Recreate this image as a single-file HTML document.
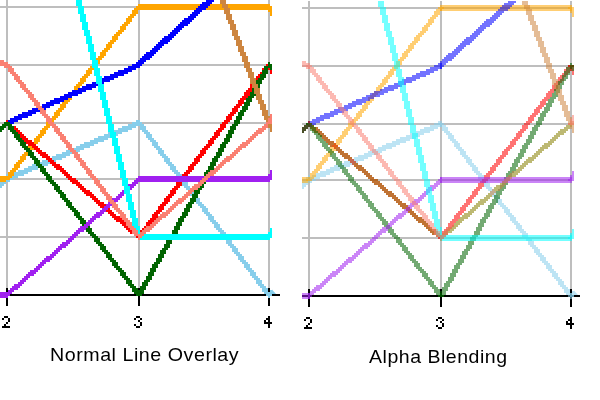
<!DOCTYPE html>
<html lang="en">
<head>
<meta charset="utf-8">
<title>Normal Line Overlay vs Alpha Blending</title>
<style>
  html, body { margin: 0; padding: 0; background: #ffffff; }
  body { width: 600px; height: 400px; overflow: hidden; position: relative;
         font-family: "Liberation Sans", sans-serif; }
  svg { position: absolute; left: 0; top: 0; display: block; }
  .lines path, .lines polygon { stroke: none; }
  .grid rect { fill: #bebebe; }
  .axis rect { fill: #000000; }
  .caption { position: absolute; margin: 0; white-space: nowrap; color: #000;
             font-family: "Liberation Sans", sans-serif; font-size: 18.5px; line-height: 20px; letter-spacing: 0.5px;
             transform-origin: 0 0; will-change: transform; }
</style>
</head>
<body>
<svg width="600" height="400" viewBox="0 0 600 400" shape-rendering="crispEdges">
  <defs>
    <!-- grey grid -->
    <g id="grid" class="grid">
      <rect x="0" y="6"   width="270" height="2"/>
      <rect x="0" y="64"  width="270" height="2"/>
      <rect x="0" y="122" width="270" height="2"/>
      <rect x="0" y="178" width="270" height="2"/>
      <rect x="0" y="236" width="270" height="2"/>
      <rect x="6"   y="0" width="2" height="288"/>
      <rect x="138" y="0" width="2" height="288"/>
      <rect x="268" y="0" width="2" height="288"/>
    </g>

    <!-- x axis ticks -->
    <g id="ticks" class="axis">
      <rect x="6"   y="288" width="2" height="18"/>
      <rect x="138" y="288" width="2" height="18"/>
      <rect x="268" y="288" width="2" height="18"/>
    </g>

    <!-- 4x6 bitmap digits, drawn at 2x -->
    <g id="d2" class="axis">
      <rect x="2" y="0" width="4" height="2"/>
      <rect x="0" y="2" width="2" height="2"/><rect x="6" y="2" width="2" height="2"/>
      <rect x="6" y="4" width="2" height="2"/>
      <rect x="4" y="6" width="2" height="2"/>
      <rect x="2" y="8" width="2" height="2"/>
      <rect x="0" y="10" width="8" height="2"/>
    </g>
    <g id="d3" class="axis">
      <rect x="2" y="0" width="4" height="2"/>
      <rect x="0" y="2" width="2" height="2"/><rect x="6" y="2" width="2" height="2"/>
      <rect x="4" y="4" width="2" height="2"/>
      <rect x="6" y="6" width="2" height="2"/>
      <rect x="0" y="8" width="2" height="2"/><rect x="6" y="8" width="2" height="2"/>
      <rect x="2" y="10" width="4" height="2"/>
    </g>
    <g id="d4" class="axis">
      <rect x="4" y="0" width="2" height="2"/>
      <rect x="2" y="2" width="4" height="2"/>
      <rect x="0" y="4" width="2" height="2"/><rect x="4" y="4" width="2" height="2"/>
      <rect x="0" y="6" width="8" height="2"/>
      <rect x="4" y="8" width="2" height="4"/>
    </g>

    <!-- data series: thick, un-antialiased lines rasterised on a 2px grid,
         drawn axis-pair by axis-pair (1-2 is off-panel to the left) -->
    <g id="series" class="lines">
      <g><!-- axis 1 to 2 -->
        <path fill="#00ff00" d="M0 126h2v6h-2zM2 124h2v6h-2zM4 122h2v6h-2zM6 120h2v6h-2z"/>
        <path fill="#87ceeb" d="M0 180h2v8h-2zM2 178h2v8h-2zM4 176h2v8h-2zM6 174h2v8h-2z"/>
        <path fill="#ffa500" d="M0 176h8v6h-8z"/>
        <path fill="#0000ff" d="M0 126h2v6h-2zM2 124h2v6h-2zM4 122h2v6h-2zM6 120h2v6h-2z"/>
        <path fill="#ff0000" d="M0 126h2v6h-2zM2 124h2v6h-2zM4 122h2v6h-2zM6 120h2v6h-2z"/>
        <path fill="#006400" d="M0 126h2v6h-2zM2 124h2v6h-2zM4 122h2v6h-2zM6 120h2v6h-2z"/>
        <path fill="#a020f0" d="M0 292h8v6h-8z"/>
        <path fill="#fa8072" d="M0 60h4v6h-4zM4 62h4v6h-4z"/>
      </g>
      <g><!-- axis 2 to 3 -->
        <path fill="#00ff00" d="M6 120h2v6h-2zM8 122h2v6h-2zM10 124h2v6h-2zM12 126h4v6h-4zM16 128h2v6h-2zM18 130h2v6h-2zM20 132h2v6h-2zM22 134h2v6h-2zM24 136h2v6h-2zM26 138h2v6h-2zM28 140h4v6h-4zM32 142h2v6h-2zM34 144h2v6h-2zM36 146h2v6h-2zM38 148h2v6h-2zM40 150h2v6h-2zM42 152h4v6h-4zM46 154h2v6h-2zM48 156h2v6h-2zM50 158h2v6h-2zM52 160h2v6h-2zM54 162h2v6h-2zM56 164h4v6h-4zM60 166h2v6h-2zM62 168h2v6h-2zM64 170h2v6h-2zM66 172h2v6h-2zM68 174h2v6h-2zM70 176h2v6h-2zM72 178h4v6h-4zM76 180h2v6h-2zM78 182h2v6h-2zM80 184h2v6h-2zM82 186h2v6h-2zM84 188h2v6h-2zM86 190h4v6h-4zM90 192h2v6h-2zM92 194h2v6h-2zM94 196h2v6h-2zM96 198h2v6h-2zM98 200h2v6h-2zM100 202h4v6h-4zM104 204h2v6h-2zM106 206h2v6h-2zM108 208h2v6h-2zM110 210h2v6h-2zM112 212h2v6h-2zM114 214h2v6h-2zM116 216h4v6h-4zM120 218h2v6h-2zM122 220h2v6h-2zM124 222h2v6h-2zM126 224h2v6h-2zM128 226h2v6h-2zM130 228h4v6h-4zM134 230h2v6h-2zM136 232h2v6h-2zM138 234h2v6h-2z"/>
        <path fill="#87ceeb" d="M6 176h4v6h-4zM10 174h4v6h-4zM14 172h4v6h-4zM18 170h6v6h-6zM24 168h4v6h-4zM28 166h4v6h-4zM32 164h6v6h-6zM38 162h4v6h-4zM42 160h6v6h-6zM48 158h4v6h-4zM52 156h4v6h-4zM56 154h6v6h-6zM62 152h4v6h-4zM66 150h4v6h-4zM70 148h6v6h-6zM76 146h4v6h-4zM80 144h4v6h-4zM84 142h6v6h-6zM90 140h4v6h-4zM94 138h4v6h-4zM98 136h6v6h-6zM104 134h4v6h-4zM108 132h6v6h-6zM114 130h4v6h-4zM118 128h4v6h-4zM122 126h6v6h-6zM128 124h4v6h-4zM132 122h4v6h-4zM136 120h4v6h-4z"/>
        <path fill="#ffa500" d="M136 6h6v2h-6zM134 8h6v2h-6zM132 10h6v4h-6zM130 14h6v2h-6zM128 16h6v2h-6zM126 18h6v4h-6zM124 22h6v2h-6zM122 24h6v2h-6zM120 26h6v4h-6zM118 30h6v2h-6zM116 32h6v2h-6zM114 34h6v2h-6zM112 36h6v4h-6zM110 40h6v2h-6zM108 42h6v2h-6zM106 44h6v4h-6zM104 48h6v2h-6zM102 50h6v2h-6zM100 52h6v4h-6zM98 56h6v2h-6zM96 58h6v2h-6zM94 60h6v4h-6zM92 64h6v2h-6zM90 66h6v2h-6zM88 68h6v2h-6zM86 70h6v4h-6zM84 74h6v2h-6zM82 76h6v2h-6zM80 78h6v4h-6zM78 82h6v2h-6zM76 84h6v2h-6zM74 86h6v4h-6zM72 90h6v2h-6zM70 92h6v2h-6zM68 94h6v2h-6zM66 96h6v4h-6zM64 100h6v2h-6zM62 102h6v2h-6zM60 104h6v4h-6zM58 108h6v2h-6zM56 110h6v2h-6zM54 112h6v4h-6zM52 116h6v2h-6zM50 118h6v2h-6zM48 120h6v2h-6zM46 122h6v4h-6zM44 126h6v2h-6zM42 128h6v2h-6zM40 130h6v4h-6zM38 134h6v2h-6zM36 136h6v2h-6zM34 138h6v4h-6zM32 142h6v2h-6zM30 144h6v2h-6zM28 146h6v4h-6zM26 150h6v2h-6zM24 152h6v2h-6zM22 154h6v2h-6zM20 156h6v4h-6zM18 160h6v2h-6zM16 162h6v2h-6zM14 164h6v4h-6zM12 168h6v2h-6zM10 170h6v2h-6zM8 172h6v4h-6zM6 176h6v2h-6zM4 178h6v2h-6z"/>
        <path fill="#0000ff" d="M6 120h4v6h-4zM10 118h4v6h-4zM14 116h4v6h-4zM18 114h4v6h-4zM22 112h6v6h-6zM28 110h4v6h-4zM32 108h4v6h-4zM36 106h6v6h-6zM42 104h4v6h-4zM46 102h4v6h-4zM50 100h4v6h-4zM54 98h6v6h-6zM60 96h4v6h-4zM64 94h4v6h-4zM68 92h4v6h-4zM72 90h6v6h-6zM78 88h4v6h-4zM82 86h4v6h-4zM86 84h6v6h-6zM92 82h4v6h-4zM96 80h4v6h-4zM100 78h4v6h-4zM104 76h6v6h-6zM110 74h4v6h-4zM114 72h4v6h-4zM118 70h6v6h-6zM124 68h4v6h-4zM128 66h4v6h-4zM132 64h4v6h-4zM136 62h4v6h-4z"/>
        <path fill="#ff0000" d="M6 120h2v6h-2zM8 122h2v6h-2zM10 124h2v6h-2zM12 126h4v6h-4zM16 128h2v6h-2zM18 130h2v6h-2zM20 132h2v6h-2zM22 134h2v6h-2zM24 136h2v6h-2zM26 138h2v6h-2zM28 140h4v6h-4zM32 142h2v6h-2zM34 144h2v6h-2zM36 146h2v6h-2zM38 148h2v6h-2zM40 150h2v6h-2zM42 152h4v6h-4zM46 154h2v6h-2zM48 156h2v6h-2zM50 158h2v6h-2zM52 160h2v6h-2zM54 162h2v6h-2zM56 164h4v6h-4zM60 166h2v6h-2zM62 168h2v6h-2zM64 170h2v6h-2zM66 172h2v6h-2zM68 174h2v6h-2zM70 176h2v6h-2zM72 178h4v6h-4zM76 180h2v6h-2zM78 182h2v6h-2zM80 184h2v6h-2zM82 186h2v6h-2zM84 188h2v6h-2zM86 190h4v6h-4zM90 192h2v6h-2zM92 194h2v6h-2zM94 196h2v6h-2zM96 198h2v6h-2zM98 200h2v6h-2zM100 202h4v6h-4zM104 204h2v6h-2zM106 206h2v6h-2zM108 208h2v6h-2zM110 210h2v6h-2zM112 212h2v6h-2zM114 214h2v6h-2zM116 216h4v6h-4zM120 218h2v6h-2zM122 220h2v6h-2zM124 222h2v6h-2zM126 224h2v6h-2zM128 226h2v6h-2zM130 228h4v6h-4zM134 230h2v6h-2zM136 232h2v6h-2zM138 234h2v6h-2z"/>
        <path fill="#006400" d="M4 122h6v2h-6zM6 124h6v2h-6zM8 126h6v4h-6zM10 130h6v2h-6zM12 132h6v2h-6zM14 134h6v4h-6zM16 138h6v2h-6zM18 140h6v2h-6zM20 142h6v4h-6zM22 146h6v2h-6zM24 148h6v2h-6zM26 150h6v2h-6zM28 152h6v4h-6zM30 156h6v2h-6zM32 158h6v2h-6zM34 160h6v4h-6zM36 164h6v2h-6zM38 166h6v2h-6zM40 168h6v4h-6zM42 172h6v2h-6zM44 174h6v2h-6zM46 176h6v4h-6zM48 180h6v2h-6zM50 182h6v2h-6zM52 184h6v2h-6zM54 186h6v4h-6zM56 190h6v2h-6zM58 192h6v2h-6zM60 194h6v4h-6zM62 198h6v2h-6zM64 200h6v2h-6zM66 202h6v4h-6zM68 206h6v2h-6zM70 208h6v2h-6zM72 210h6v2h-6zM74 212h6v4h-6zM76 216h6v2h-6zM78 218h6v2h-6zM80 220h6v4h-6zM82 224h6v2h-6zM84 226h6v2h-6zM86 228h6v4h-6zM88 232h6v2h-6zM90 234h6v2h-6zM92 236h6v2h-6zM94 238h6v4h-6zM96 242h6v2h-6zM98 244h6v2h-6zM100 246h6v4h-6zM102 250h6v2h-6zM104 252h6v2h-6zM106 254h6v4h-6zM108 258h6v2h-6zM110 260h6v2h-6zM112 262h6v4h-6zM114 266h6v2h-6zM116 268h6v2h-6zM118 270h6v2h-6zM120 272h6v4h-6zM122 276h6v2h-6zM124 278h6v2h-6zM126 280h6v4h-6zM128 284h6v2h-6zM130 286h6v2h-6zM132 288h6v4h-6zM134 292h6v2h-6zM136 294h6v2h-6z"/>
        <path fill="#a020f0" d="M6 292h2v6h-2zM8 290h2v6h-2zM10 288h2v6h-2zM12 286h2v6h-2zM14 284h4v6h-4zM18 282h2v6h-2zM20 280h2v6h-2zM22 278h2v6h-2zM24 276h2v6h-2zM26 274h2v6h-2zM28 272h2v6h-2zM30 270h4v6h-4zM34 268h2v6h-2zM36 266h2v6h-2zM38 264h2v6h-2zM40 262h2v6h-2zM42 260h2v6h-2zM44 258h2v6h-2zM46 256h4v6h-4zM50 254h2v6h-2zM52 252h2v6h-2zM54 250h2v6h-2zM56 248h2v6h-2zM58 246h2v6h-2zM60 244h2v6h-2zM62 242h4v6h-4zM66 240h2v6h-2zM68 238h2v6h-2zM70 236h2v6h-2zM72 234h2v6h-2zM74 232h2v6h-2zM76 230h2v6h-2zM78 228h2v6h-2zM80 226h4v6h-4zM84 224h2v6h-2zM86 222h2v6h-2zM88 220h2v6h-2zM90 218h2v6h-2zM92 216h2v6h-2zM94 214h2v6h-2zM96 212h4v6h-4zM100 210h2v6h-2zM102 208h2v6h-2zM104 206h2v6h-2zM106 204h2v6h-2zM108 202h2v6h-2zM110 200h2v6h-2zM112 198h4v6h-4zM116 196h2v6h-2zM118 194h2v6h-2zM120 192h2v6h-2zM122 190h2v6h-2zM124 188h2v6h-2zM126 186h2v6h-2zM128 184h4v6h-4zM132 182h2v6h-2zM134 180h2v6h-2zM136 178h2v6h-2zM138 176h2v6h-2z"/>
        <path fill="#00ffff" d="M76 0h6v6h-6zM78 6h6v8h-6zM80 14h6v8h-6zM82 22h6v8h-6zM84 30h6v6h-6zM86 36h6v8h-6zM88 44h6v8h-6zM90 52h6v8h-6zM92 60h6v8h-6zM94 68h6v8h-6zM96 76h6v8h-6zM98 84h6v8h-6zM100 92h6v8h-6zM102 100h6v8h-6zM104 108h6v8h-6zM106 116h6v8h-6zM108 124h6v8h-6zM110 132h6v6h-6zM112 138h6v8h-6zM114 146h6v8h-6zM116 154h6v8h-6zM118 162h6v8h-6zM120 170h6v8h-6zM122 178h6v8h-6zM124 186h6v8h-6zM126 194h6v8h-6zM128 202h6v8h-6zM130 210h6v8h-6zM132 218h6v8h-6zM134 226h6v8h-6zM136 234h6v4h-6z"/>
        <path fill="#fa8072" d="M4 64h6v2h-6zM6 66h6v2h-6zM8 68h6v4h-6zM10 72h6v2h-6zM12 74h6v2h-6zM14 76h6v4h-6zM16 80h6v2h-6zM18 82h6v2h-6zM20 84h6v4h-6zM22 88h6v2h-6zM24 90h6v2h-6zM26 92h6v2h-6zM28 94h6v4h-6zM30 98h6v2h-6zM32 100h6v2h-6zM34 102h6v4h-6zM36 106h6v2h-6zM38 108h6v2h-6zM40 110h6v4h-6zM42 114h6v2h-6zM44 116h6v2h-6zM46 118h6v4h-6zM48 122h6v2h-6zM50 124h6v2h-6zM52 126h6v2h-6zM54 128h6v4h-6zM56 132h6v2h-6zM58 134h6v2h-6zM60 136h6v4h-6zM62 140h6v2h-6zM64 142h6v2h-6zM66 144h6v4h-6zM68 148h6v2h-6zM70 150h6v2h-6zM72 152h6v2h-6zM74 154h6v4h-6zM76 158h6v2h-6zM78 160h6v2h-6zM80 162h6v4h-6zM82 166h6v2h-6zM84 168h6v2h-6zM86 170h6v4h-6zM88 174h6v2h-6zM90 176h6v2h-6zM92 178h6v2h-6zM94 180h6v4h-6zM96 184h6v2h-6zM98 186h6v2h-6zM100 188h6v4h-6zM102 192h6v2h-6zM104 194h6v2h-6zM106 196h6v4h-6zM108 200h6v2h-6zM110 202h6v2h-6zM112 204h6v4h-6zM114 208h6v2h-6zM116 210h6v2h-6zM118 212h6v2h-6zM120 214h6v4h-6zM122 218h6v2h-6zM124 220h6v2h-6zM126 222h6v4h-6zM128 226h6v2h-6zM130 228h6v2h-6zM132 230h6v4h-6zM134 234h6v2h-6zM136 236h6v2h-6z"/>
      </g>
      <g><!-- axis 3 to 4 -->
        <path fill="#00ff00" d="M138 234h2v6h-2zM140 232h2v6h-2zM142 230h2v6h-2zM144 228h2v6h-2zM146 226h4v6h-4zM150 224h2v6h-2zM152 222h2v6h-2zM154 220h2v6h-2zM156 218h2v6h-2zM158 216h2v6h-2zM160 214h2v6h-2zM162 212h4v6h-4zM166 210h2v6h-2zM168 208h2v6h-2zM170 206h2v6h-2zM172 204h2v6h-2zM174 202h2v6h-2zM176 200h2v6h-2zM178 198h4v6h-4zM182 196h2v6h-2zM184 194h2v6h-2zM186 192h2v6h-2zM188 190h2v6h-2zM190 188h2v6h-2zM192 186h2v6h-2zM194 184h4v6h-4zM198 182h2v6h-2zM200 180h2v6h-2zM202 178h2v6h-2zM204 176h2v6h-2zM206 174h2v6h-2zM208 172h2v6h-2zM210 170h4v6h-4zM214 168h2v6h-2zM216 166h2v6h-2zM218 164h2v6h-2zM220 162h2v6h-2zM222 160h2v6h-2zM224 158h2v6h-2zM226 156h4v6h-4zM230 154h2v6h-2zM232 152h2v6h-2zM234 150h2v6h-2zM236 148h2v6h-2zM238 146h2v6h-2zM240 144h2v6h-2zM242 142h4v6h-4zM246 140h2v6h-2zM248 138h2v6h-2zM250 136h2v6h-2zM252 134h2v6h-2zM254 132h2v6h-2zM256 130h2v6h-2zM258 128h4v6h-4zM262 126h2v6h-2zM264 124h2v6h-2zM266 122h2v6h-2zM268 120h2v6h-2z"/>
        <path fill="#87ceeb" d="M136 122h6v2h-6zM138 124h6v2h-6zM140 126h6v4h-6zM142 130h6v2h-6zM144 132h6v2h-6zM146 134h6v4h-6zM148 138h6v2h-6zM150 140h6v2h-6zM152 142h6v4h-6zM154 146h6v2h-6zM156 148h6v2h-6zM158 150h6v4h-6zM160 154h6v2h-6zM162 156h6v2h-6zM164 158h6v4h-6zM166 162h6v2h-6zM168 164h6v2h-6zM170 166h6v4h-6zM172 170h6v2h-6zM174 172h6v2h-6zM176 174h6v4h-6zM178 178h6v2h-6zM180 180h6v2h-6zM182 182h6v4h-6zM184 186h6v2h-6zM186 188h6v2h-6zM188 190h6v4h-6zM190 194h6v2h-6zM192 196h6v2h-6zM194 198h6v4h-6zM196 202h6v2h-6zM198 204h6v2h-6zM200 206h6v2h-6zM202 208h6v4h-6zM204 212h6v2h-6zM206 214h6v2h-6zM208 216h6v4h-6zM210 220h6v2h-6zM212 222h6v2h-6zM214 224h6v4h-6zM216 228h6v2h-6zM218 230h6v2h-6zM220 232h6v4h-6zM222 236h6v2h-6zM224 238h6v2h-6zM226 240h6v4h-6zM228 244h6v2h-6zM230 246h6v2h-6zM232 248h6v4h-6zM234 252h6v2h-6zM236 254h6v2h-6zM238 256h6v4h-6zM240 260h6v2h-6zM242 262h6v2h-6zM244 264h6v4h-6zM246 268h6v2h-6zM248 270h6v2h-6zM250 272h6v4h-6zM252 276h6v2h-6zM254 278h6v2h-6zM256 280h6v4h-6zM258 284h6v2h-6zM260 286h6v2h-6zM262 288h6v4h-6zM264 292h6v2h-6zM266 294h6v2h-6z"/>
        <path fill="#ffa500" d="M138 4h132v6h-132z"/>
        <path fill="#0000ff" d="M138 60h2v8h-2zM140 58h2v8h-2zM142 56h2v8h-2zM144 54h2v8h-2zM146 52h4v8h-4zM150 50h2v8h-2zM152 48h2v8h-2zM154 46h2v8h-2zM156 44h2v8h-2zM158 42h2v8h-2zM160 40h2v8h-2zM162 38h2v8h-2zM164 36h4v8h-4zM168 34h2v8h-2zM170 32h2v8h-2zM172 30h2v8h-2zM174 28h2v8h-2zM176 26h2v8h-2zM178 24h2v8h-2zM180 22h2v8h-2zM182 20h2v8h-2zM184 18h4v8h-4zM188 16h2v8h-2zM190 14h2v8h-2zM192 12h2v8h-2zM194 10h2v8h-2zM196 8h2v8h-2zM198 6h2v8h-2zM200 4h2v8h-2zM202 2h4v8h-4zM206 0h2v8h-2zM208 0h2v6h-2zM210 0h2v4h-2zM212 0h2v2h-2z"/>
        <path fill="#ff0000" d="M266 64h6v2h-6zM264 66h6v2h-6zM262 68h6v4h-6zM260 72h6v2h-6zM258 74h6v2h-6zM256 76h6v4h-6zM254 80h6v2h-6zM252 82h6v2h-6zM250 84h6v4h-6zM248 88h6v2h-6zM246 90h6v2h-6zM244 92h6v4h-6zM242 96h6v2h-6zM240 98h6v2h-6zM238 100h6v4h-6zM236 104h6v2h-6zM234 106h6v2h-6zM232 108h6v4h-6zM230 112h6v2h-6zM228 114h6v2h-6zM226 116h6v4h-6zM224 120h6v2h-6zM222 122h6v2h-6zM220 124h6v4h-6zM218 128h6v2h-6zM216 130h6v2h-6zM214 132h6v4h-6zM212 136h6v2h-6zM210 138h6v2h-6zM208 140h6v4h-6zM206 144h6v2h-6zM204 146h6v2h-6zM202 148h6v2h-6zM200 150h6v4h-6zM198 154h6v2h-6zM196 156h6v2h-6zM194 158h6v4h-6zM192 162h6v2h-6zM190 164h6v2h-6zM188 166h6v4h-6zM186 170h6v2h-6zM184 172h6v2h-6zM182 174h6v4h-6zM180 178h6v2h-6zM178 180h6v2h-6zM176 182h6v4h-6zM174 186h6v2h-6zM172 188h6v2h-6zM170 190h6v4h-6zM168 194h6v2h-6zM166 196h6v2h-6zM164 198h6v4h-6zM162 202h6v2h-6zM160 204h6v2h-6zM158 206h6v4h-6zM156 210h6v2h-6zM154 212h6v2h-6zM152 214h6v4h-6zM150 218h6v2h-6zM148 220h6v2h-6zM146 222h6v4h-6zM144 226h6v2h-6zM142 228h6v2h-6zM140 230h6v4h-6zM138 234h6v2h-6zM136 236h6v2h-6z"/>
        <path fill="#006400" d="M266 64h6v2h-6zM264 66h6v4h-6zM262 70h6v4h-6zM260 74h6v4h-6zM258 78h6v2h-6zM256 80h6v4h-6zM254 84h6v4h-6zM252 88h6v4h-6zM250 92h6v4h-6zM248 96h6v2h-6zM246 98h6v4h-6zM244 102h6v4h-6zM242 106h6v4h-6zM240 110h6v2h-6zM238 112h6v4h-6zM236 116h6v4h-6zM234 120h6v4h-6zM232 124h6v2h-6zM230 126h6v4h-6zM228 130h6v4h-6zM226 134h6v4h-6zM224 138h6v4h-6zM222 142h6v2h-6zM220 144h6v4h-6zM218 148h6v4h-6zM216 152h6v4h-6zM214 156h6v2h-6zM212 158h6v4h-6zM210 162h6v4h-6zM208 166h6v4h-6zM206 170h6v2h-6zM204 172h6v4h-6zM202 176h6v4h-6zM200 180h6v4h-6zM198 184h6v4h-6zM196 188h6v2h-6zM194 190h6v4h-6zM192 194h6v4h-6zM190 198h6v4h-6zM188 202h6v2h-6zM186 204h6v4h-6zM184 208h6v4h-6zM182 212h6v4h-6zM180 216h6v2h-6zM178 218h6v4h-6zM176 222h6v4h-6zM174 226h6v4h-6zM172 230h6v4h-6zM170 234h6v2h-6zM168 236h6v4h-6zM166 240h6v4h-6zM164 244h6v4h-6zM162 248h6v2h-6zM160 250h6v4h-6zM158 254h6v4h-6zM156 258h6v4h-6zM154 262h6v2h-6zM152 264h6v4h-6zM150 268h6v4h-6zM148 272h6v4h-6zM146 276h6v4h-6zM144 280h6v2h-6zM142 282h6v4h-6zM140 286h6v4h-6zM138 290h6v4h-6zM136 294h6v2h-6z"/>
        <path fill="#a020f0" d="M138 176h132v6h-132z"/>
        <path fill="#00ffff" d="M138 234h132v6h-132z"/>
        <path fill="#cd853f" d="M220 0h6v4h-6zM222 4h6v4h-6zM224 8h6v6h-6zM226 14h6v6h-6zM228 20h6v4h-6zM230 24h6v6h-6zM232 30h6v6h-6zM234 36h6v4h-6zM236 40h6v6h-6zM238 46h6v6h-6zM240 52h6v4h-6zM242 56h6v6h-6zM244 62h6v6h-6zM246 68h6v4h-6zM248 72h6v6h-6zM250 78h6v6h-6zM252 84h6v4h-6zM254 88h6v6h-6zM256 94h6v6h-6zM258 100h6v4h-6zM260 104h6v6h-6zM262 110h6v6h-6zM264 116h6v4h-6zM266 120h6v4h-6z"/>
        <path fill="#fa8072" d="M138 234h2v6h-2zM140 232h2v6h-2zM142 230h2v6h-2zM144 228h2v6h-2zM146 226h4v6h-4zM150 224h2v6h-2zM152 222h2v6h-2zM154 220h2v6h-2zM156 218h2v6h-2zM158 216h2v6h-2zM160 214h2v6h-2zM162 212h4v6h-4zM166 210h2v6h-2zM168 208h2v6h-2zM170 206h2v6h-2zM172 204h2v6h-2zM174 202h2v6h-2zM176 200h2v6h-2zM178 198h4v6h-4zM182 196h2v6h-2zM184 194h2v6h-2zM186 192h2v6h-2zM188 190h2v6h-2zM190 188h2v6h-2zM192 186h2v6h-2zM194 184h4v6h-4zM198 182h2v6h-2zM200 180h2v6h-2zM202 178h2v6h-2zM204 176h2v6h-2zM206 174h2v6h-2zM208 172h2v6h-2zM210 170h4v6h-4zM214 168h2v6h-2zM216 166h2v6h-2zM218 164h2v6h-2zM220 162h2v6h-2zM222 160h2v6h-2zM224 158h2v6h-2zM226 156h4v6h-4zM230 154h2v6h-2zM232 152h2v6h-2zM234 150h2v6h-2zM236 148h2v6h-2zM238 146h2v6h-2zM240 144h2v6h-2zM242 142h4v6h-4zM246 140h2v6h-2zM248 138h2v6h-2zM250 136h2v6h-2zM252 134h2v6h-2zM254 132h2v6h-2zM256 130h2v6h-2zM258 128h4v6h-4zM262 126h2v6h-2zM264 124h2v6h-2zM266 122h2v6h-2zM268 120h2v6h-2z"/>
      </g>
      <g><!-- axis 4 to 5 -->
        <path fill="#87ceeb" d="M268 292h2v6h-2zM270 290h2v6h-2z"/>
        <polygon fill="#87ceeb" shape-rendering="geometricPrecision" points="272,289.5 276,294 272,294"/>
        <path fill="#ffa500" d="M266 6h6v2h-6zM268 8h4v4h-4zM270 12h2v4h-2z"/>
        <path fill="#ff0000" d="M266 64h6v2h-6zM268 66h4v4h-4zM270 70h2v4h-2z"/>
        <path fill="#006400" d="M268 62h2v6h-2zM270 64h2v6h-2z"/>
        <path fill="#a020f0" d="M270 170h2v4h-2zM268 174h4v4h-4zM266 178h6v2h-6z"/>
        <path fill="#00ffff" d="M270 228h2v4h-2zM268 232h4v4h-4zM266 236h6v2h-6z"/>
        <path fill="#cd853f" d="M266 122h6v2h-6zM268 124h4v4h-4zM270 128h2v4h-2z"/>
        <path fill="#fa8072" d="M270 114h2v4h-2zM268 118h4v4h-4zM266 122h6v2h-6z"/>
      </g>
    </g>

    <g id="ticklabels">
      <g role="img" aria-label="2"><title>2</title><use href="#d2" x="2"   y="316"/></g>
      <g role="img" aria-label="3"><title>3</title><use href="#d3" x="134" y="316"/></g>
      <g role="img" aria-label="4"><title>4</title><use href="#d4" x="264" y="316"/></g>
    </g>
  </defs>

  <!-- ================= LEFT PANEL : normal overlay ================= -->
  <g id="left">
    <use href="#grid"/>
    <g class="axis"><rect x="0" y="294" width="280" height="2"/></g>
    <use href="#ticks"/>
    <use href="#series"/>
    <use href="#ticklabels"/>
  </g>

  <!-- ================= RIGHT PANEL : alpha blending ================= -->
  <g id="right" transform="translate(302,1)">
    <use href="#grid"/>
    <g class="axis"><rect x="0" y="294" width="278" height="2"/></g>
    <use href="#ticks"/>
    <use href="#series" fill-opacity="0.55"/>
    <use href="#ticklabels"/>
  </g>
</svg>

<p class="caption" id="capL" style="left:49.6px; top:345px; transform:scaleX(1.062);">Normal Line Overlay</p>
<p class="caption" id="capR" style="left:369px; top:347px; transform:scaleX(1.054);">Alpha Blending</p>
</body>
</html>
